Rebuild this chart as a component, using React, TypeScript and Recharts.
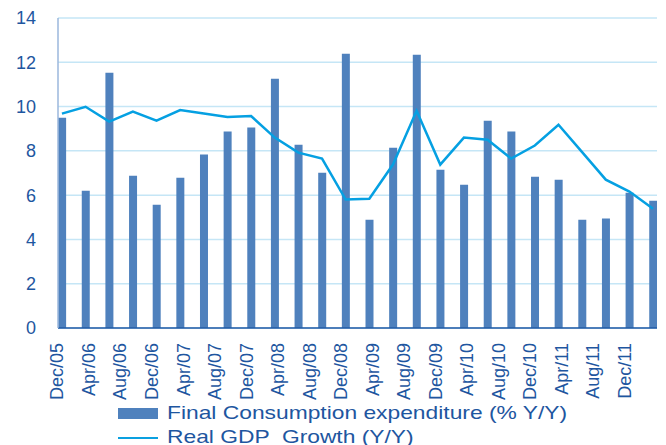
import { ComposedChart, Bar, Line, XAxis, YAxis, CartesianGrid, Legend } from 'recharts';

// quarterly observations, Dec/05 .. Mar/12
const quarters = [
  'Dec/05', 'Mar/06', 'Jun/06', 'Sep/06', 'Dec/06', 'Mar/07', 'Jun/07', 'Sep/07', 'Dec/07',
  'Mar/08', 'Jun/08', 'Sep/08', 'Dec/08', 'Mar/09', 'Jun/09', 'Sep/09', 'Dec/09',
  'Mar/10', 'Jun/10', 'Sep/10', 'Dec/10', 'Mar/11', 'Jun/11', 'Sep/11', 'Dec/11', 'Mar/12',
];
const consumption = [
  9.5, 6.2, 11.53, 6.88, 5.57, 6.79, 7.83, 8.87, 9.05,
  11.26, 8.28, 7.01, 12.39, 4.89, 8.14, 12.34, 7.15,
  6.47, 9.36, 8.87, 6.83, 6.7, 4.89, 4.94, 6.11, 5.75,
];
const gdp = [
  9.68, 9.99, 9.32, 9.77, 9.36, 9.84, 9.69, 9.53, 9.57,
  8.6, 7.92, 7.65, 5.8, 5.84, 7.38, 9.81, 7.38,
  8.6, 8.5, 7.65, 8.24, 9.18, 7.94, 6.7, 6.16, 5.39,
];
// axis labels every 4 months
const tickLabels = [
  'Dec/05', 'Apr/06', 'Aug/06', 'Dec/06', 'Apr/07', 'Aug/07', 'Dec/07', 'Apr/08', 'Aug/08', 'Dec/08',
  'Apr/09', 'Aug/09', 'Dec/09', 'Apr/10', 'Aug/10', 'Dec/10', 'Apr/11', 'Aug/11', 'Dec/11',
];

const data = quarters.map((q, i) => ({ month: i * 3, label: q, consumption: consumption[i], gdp: gdp[i] }));
const ticks = tickLabels.map((_, i) => i * 4);

const TEXT = '#1e56a0';
const FONT = '"Liberation Sans", Arial, sans-serif';

if (typeof document !== 'undefined') document.body.style.margin = '0';

const XTick = (props: any) => {
  const { x, y, payload } = props;
  return (
    <g transform={`translate(${x},${y + 15})`}>
      <text transform="rotate(-90)" textAnchor="end" dy={1.5} fill={TEXT} fontSize={18} fontFamily={FONT}>
        {tickLabels[payload.value / 4]}
      </text>
    </g>
  );
};

const legendText = {
  position: 'absolute' as const,
  left: 167,
  lineHeight: '22px',
  whiteSpace: 'pre' as const,
  transform: 'scaleX(1.2)',
  transformOrigin: 'left center',
};

const LegendBox = () => (
  <div style={{ position: 'relative', width: 666, height: 45, fontFamily: FONT, fontSize: 19, color: TEXT }}>
    <div style={{ position: 'absolute', left: 118, top: 8, width: 40, height: 11, background: '#4f81bd' }} />
    <div style={{ ...legendText, top: 2 }}>Final Consumption expenditure (% Y/Y)</div>
    <div style={{ position: 'absolute', left: 118, top: 37, width: 40, height: 2, background: '#0aa0e0' }} />
    <div style={{ ...legendText, top: 26 }}>{'Real GDP  Growth (Y/Y)'}</div>
  </div>
);

export default function App() {
  return (
    <div style={{ width: 666, height: 445, background: '#fff', overflow: 'hidden' }}>
      <ComposedChart width={666} height={445} data={data} margin={{ top: 18, right: 9, bottom: 0, left: 0 }}>
        <CartesianGrid vertical={false} stroke="#c5e6f6" strokeWidth={1.5} />
        <XAxis
          dataKey="month"
          type="number"
          domain={[-0.5, 75.5]}
          ticks={ticks}
          interval={0}
          height={72}
          tickSize={0}
          tickMargin={0}
          tick={<XTick />}
          axisLine={{ stroke: '#1f5aa6', strokeWidth: 1.5 }}
          tickLine={false}
          allowDataOverflow
        />
        <YAxis
          domain={[0, 14]}
          ticks={[0, 2, 4, 6, 8, 10, 12, 14]}
          width={58}
          tickSize={0}
          tickMargin={22}
          tickLine={false}
          axisLine={{ stroke: '#9bb7dc', strokeWidth: 1.5 }}
          tick={{ fill: TEXT, fontSize: 18, fontFamily: FONT }}
        />
        <Bar dataKey="consumption" fill="#4f81bd" barSize={8} isAnimationActive={false} />
        <Line
          dataKey="gdp"
          type="linear"
          stroke="#05a0e2"
          strokeWidth={2.5}
          dot={false}
          isAnimationActive={false}
        />
        <Legend
          verticalAlign="bottom"
          height={45}
          content={<LegendBox />}
          wrapperStyle={{ left: 0, bottom: 0, width: 666, height: 45 }}
        />
      </ComposedChart>
    </div>
  );
}
